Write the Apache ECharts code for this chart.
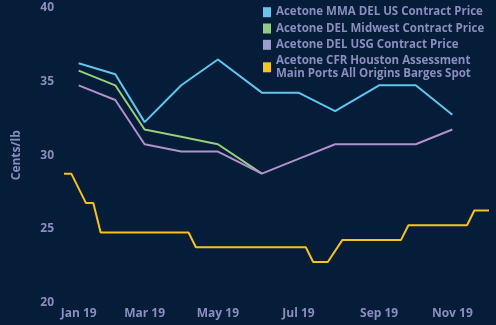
<!DOCTYPE html>
<html>
<head>
<meta charset="utf-8">
<script src="https://cdn.jsdelivr.net/npm/echarts@6/dist/echarts.min.js"></script>
<style>
  html, body { margin: 0; padding: 0; background: #051d39; }
  #chart { width: 496px; height: 325px; }
</style>
</head>
<body>
<div id="chart"></div>
<script>
// Weekly spot assessment (Fridays)
const spotDates = [
  '2018-12-21', '2018-12-28',
  '2019-01-04', '2019-01-11', '2019-01-18', '2019-01-25',
  '2019-02-01', '2019-02-08', '2019-02-15', '2019-02-22',
  '2019-03-01', '2019-03-08', '2019-03-15', '2019-03-22', '2019-03-29',
  '2019-04-05', '2019-04-12', '2019-04-19', '2019-04-26',
  '2019-05-03', '2019-05-10', '2019-05-17', '2019-05-24', '2019-05-31',
  '2019-06-07', '2019-06-14', '2019-06-21', '2019-06-28',
  '2019-07-05', '2019-07-12', '2019-07-19', '2019-07-26',
  '2019-08-02', '2019-08-09', '2019-08-16', '2019-08-23', '2019-08-30',
  '2019-09-06', '2019-09-13', '2019-09-20', '2019-09-27',
  '2019-10-04', '2019-10-11', '2019-10-18', '2019-10-25',
  '2019-11-01', '2019-11-08', '2019-11-15', '2019-11-22', '2019-11-29',
  '2019-12-06'
];
const spotHouston = [
  28.75, 28.75,
  26.75, 26.75, 24.75, 24.75,
  24.75, 24.75, 24.75, 24.75,
  24.75, 24.75, 24.75, 24.75, 24.75,
  24.75, 23.75, 23.75, 23.75,
  23.75, 23.75, 23.75, 23.75, 23.75,
  23.75, 23.75, 23.75, 23.75,
  23.75, 22.75, 22.75, 22.75,
  24.25, 24.25, 24.25, 24.25, 24.25,
  24.25, 24.25, 24.25, 25.25,
  25.25, 25.25, 25.25, 25.25,
  25.25, 25.25, 25.25, 26.25, 26.25,
  26.25
];

// Monthly contract prices
const contractDates = [
  '2019-01-01', '2019-02-01', '2019-03-01', '2019-04-01', '2019-05-01', '2019-06-01',
  '2019-07-01', '2019-08-01', '2019-09-01', '2019-10-01', '2019-11-01'
];
const mmaUS   = [36.25, 35.5, 32.25, 34.75, 36.5, 34.25, 34.25, 33.0, 34.75, 34.75, 32.75];
const midwest = [35.75, 34.75, 31.75, 31.25, 30.75, 28.75, null, null, null, null, null];
const usg     = [34.75, 33.75, 30.75, 30.25, 30.25, 28.75, 29.75, 30.75, 30.75, 30.75, 31.75];

// Axis labels
const xTickDates  = ['2019-01-01', '2019-03-01', '2019-05-01', '2019-07-01', '2019-09-01', '2019-11-01'];
const xTickLabels = ['Jan 19', 'Mar 19', 'May 19', 'Jul 19', 'Sep 19', 'Nov 19'];
const yTicks = [20, 25, 30, 35, 40];

const seriesNames = [
  'Acetone MMA DEL US Contract Price',
  'Acetone DEL Midwest Contract Price',
  'Acetone DEL USG Contract Price',
  'Acetone CFR Houston Assessment\nMain Ports All Origins Barges Spot'
];
const seriesColors = ['#5ec6ee', '#95cf7c', '#b190cc', '#f6c21c'];
const legendColors = ['#6bc4ec', '#8fcc84', '#9b9bd0', '#f5c42a'];

// Shared category axis: union of weekly and monthly dates
const categories = Array.from(new Set(spotDates.concat(contractDates))).sort();

function align(dates, values) {
  const map = {};
  dates.forEach((d, i) => { map[d] = values[i]; });
  return categories.map(d => (d in map ? map[d] : null));
}

const textColor = '#8b8dbf';
const fontFamily = '"Open Sans", "Noto Sans", sans-serif';

const chart = echarts.init(document.getElementById('chart'), null, { renderer: 'canvas' });

const seriesData = [
  align(contractDates, mmaUS),
  align(contractDates, midwest),
  align(contractDates, usg),
  align(spotDates, spotHouston)
];

chart.setOption({
  backgroundColor: '#051d39',
  animation: false,
  textStyle: { fontFamily: fontFamily },
  grid: { left: 64, right: 7, top: 8, bottom: 22.5 },
  legend: {
    orient: 'vertical',
    left: 258,
    top: 1,
    itemWidth: 8,
    itemHeight: 10,
    itemGap: 3.9,
    icon: 'rect',
    textStyle: {
      color: textColor,
      fontSize: 11.5,
      fontWeight: 'bold',
      lineHeight: 12.4,
      fontFamily: fontFamily
    },
    data: seriesNames.map((n, i) => ({ name: n, itemStyle: { color: legendColors[i] } }))
  },
  xAxis: {
    type: 'category',
    data: categories,
    boundaryGap: false,
    axisLine: { show: false },
    axisTick: { show: false },
    splitLine: { show: false },
    axisLabel: {
      color: textColor,
      fontSize: 12,
      fontWeight: 'bold',
      margin: 5,
      interval: (i, v) => xTickDates.indexOf(v) >= 0,
      formatter: v => {
        const k = xTickDates.indexOf(v);
        return k >= 0 ? xTickLabels[k] : '';
      }
    }
  },
  yAxis: {
    type: 'value',
    min: yTicks[0],
    max: yTicks[yTicks.length - 1],
    interval: yTicks[1] - yTicks[0],
    name: 'Cents/lb',
    nameLocation: 'middle',
    nameGap: 41,
    nameTextStyle: { color: textColor, fontSize: 12, fontWeight: 'bold' },
    axisLine: { show: false },
    axisTick: { show: false },
    splitLine: { show: false },
    axisLabel: { color: textColor, fontSize: 12, fontWeight: 'bold', margin: 10 }
  },
  series: seriesData.map((d, i) => ({
    name: seriesNames[i],
    type: 'line',
    data: d,
    connectNulls: true,
    showSymbol: false,
    symbol: 'none',
    lineStyle: { color: seriesColors[i], width: 2 },
    itemStyle: { color: seriesColors[i] }
  }))
});
</script>
</body>
</html>
